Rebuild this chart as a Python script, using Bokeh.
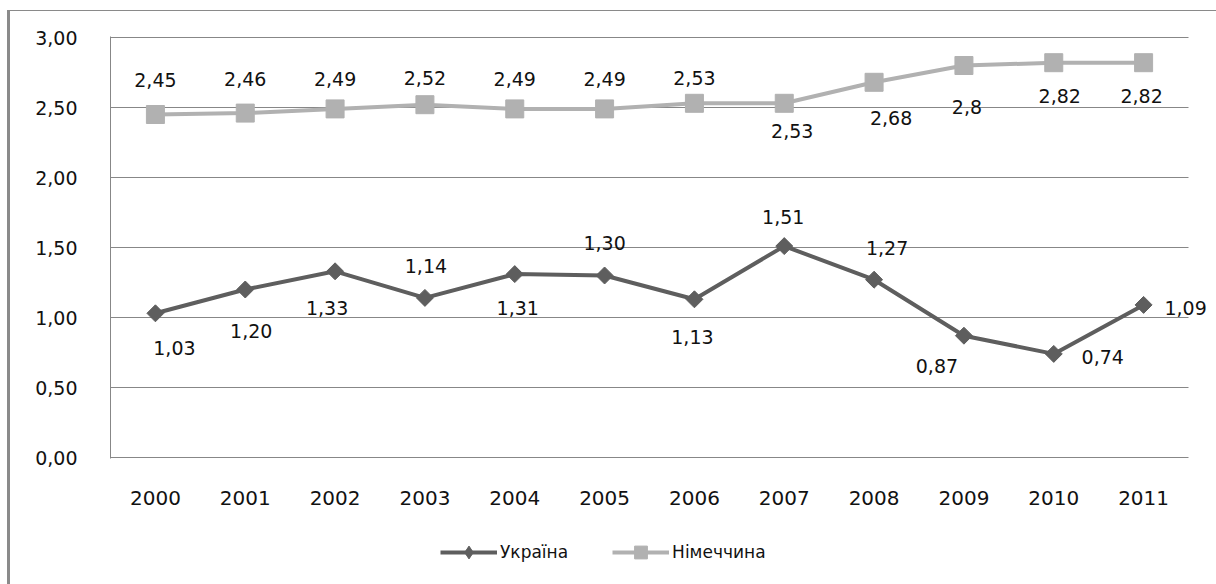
from bokeh.plotting import figure
from bokeh.layouts import column
from bokeh.models import (ColumnDataSource, LabelSet, Legend, LegendItem,
                          Range1d, FixedTicker, CustomJSTickFormatter)
from bokeh.core.properties import value
from bokeh.embed import file_html
from bokeh.resources import INLINE

# ---- data ----
years = ["2000", "2001", "2002", "2003", "2004", "2005",
         "2006", "2007", "2008", "2009", "2010", "2011"]
ukraine = [1.03, 1.20, 1.33, 1.14, 1.31, 1.30, 1.13, 1.51, 1.27, 0.87, 0.74, 1.09]
germany = [2.45, 2.46, 2.49, 2.52, 2.49, 2.49, 2.53, 2.53, 2.68, 2.80, 2.82, 2.82]
y_ticks = [0.0, 0.5, 1.0, 1.5, 2.0, 2.5, 3.0]
series_names = ["Україна", "Німеччина"]

# ---- label placement (style, screen px; dy positive = up) ----
ukr_dx = [19, 6, -8, 1, 3, 0, -2, -1, 13, -27, 49, 42]
ukr_dy = [-35, -41, -37, 32, -34, 33, -38, 29, 32, -30, -3, -3]
ger_dx = [0, 0, 0, 0, 0, 0, 0, 8, 17, 3, 6, -2]
ger_dy = [35, 34, 30, 27, 30, 30, 25, -28, -36, -41, -33, -33]

FONT = "DejaVu Sans"
UKR_COLOR = "#5e5e5e"
GER_COLOR = "#b1b1b1"
GRID_COLOR = "#878787"
TEXT_COLOR = "#111111"

pos = list(range(len(years)))
n = len(years)

src = ColumnDataSource(data=dict(
    pos=pos,
    ukr=ukraine,
    ger=germany,
    ukr_txt=[f"{v:.2f}".replace(".", ",") for v in ukraine],
    ger_txt=[f"{v:g}".replace(".", ",") for v in germany],
    ukr_dx=ukr_dx, ukr_dy=ukr_dy, ger_dx=ger_dx, ger_dy=ger_dy,
))

W = 1206
H_MAIN = 520
H_LEG = 53

p = figure(x_range=Range1d(-0.5, n - 0.5 + 0.267),
           y_range=Range1d(-1 / 140, 3 + 1 / 140),
           width=W, height=H_MAIN,
           output_backend="svg", toolbar_location=None,
           min_border_left=100, min_border_right=4,
           min_border_top=25, min_border_bottom=H_MAIN - 447)
p.outline_line_color = None
p.background_fill_color = "white"
p.border_fill_color = "white"

# axes
p.yaxis.ticker = FixedTicker(ticks=y_ticks)
p.yaxis.formatter = CustomJSTickFormatter(code="return tick.toFixed(2).replace('.', ',');")
p.yaxis.axis_line_color = GRID_COLOR
p.yaxis.axis_line_width = 1
p.yaxis.major_tick_line_color = None
p.yaxis.minor_tick_line_color = None
p.yaxis.major_label_standoff = 27
p.yaxis.major_label_text_font = FONT
p.yaxis.major_label_text_font_size = "19px"
p.yaxis.major_label_text_color = TEXT_COLOR

p.xaxis.ticker = FixedTicker(ticks=pos)
p.xaxis.major_label_overrides = {i: y for i, y in zip(pos, years)}
p.xaxis.axis_line_color = None
p.xaxis.major_tick_line_color = None
p.xaxis.minor_tick_line_color = None
p.xaxis.major_label_standoff = 26
p.xaxis.major_label_text_font = FONT
p.xaxis.major_label_text_font_size = "20px"
p.xaxis.major_label_text_color = TEXT_COLOR

p.xgrid.grid_line_color = None
p.ygrid.grid_line_color = None
# horizontal gridlines across the category band only
p.segment(x0=[-0.5] * len(y_ticks), x1=[n - 0.5] * len(y_ticks),
          y0=y_ticks, y1=y_ticks, line_color=GRID_COLOR, line_width=1)

# series
p.line(x="pos", y="ukr", source=src, line_color=UKR_COLOR, line_width=4)
p.scatter(x="pos", y="ukr", source=src, marker="square", size=12, angle=0.785398,
          fill_color=UKR_COLOR, line_color=UKR_COLOR)
p.line(x="pos", y="ger", source=src, line_color=GER_COLOR, line_width=4)
p.scatter(x="pos", y="ger", source=src, marker="square", size=18,
          fill_color=GER_COLOR, line_color=GER_COLOR)

# data labels
for col, dx, dy in [("ukr", "ukr_dx", "ukr_dy"), ("ger", "ger_dx", "ger_dy")]:
    labels = LabelSet(x="pos", y=col, text=col + "_txt", source=src,
                      x_offset=dx, y_offset=dy,
                      text_align="center", text_baseline="middle",
                      text_font=value(FONT), text_font_size="19px", text_color=TEXT_COLOR)
    p.add_layout(labels)

# ---- legend strip (its renderers reuse the series data, kept out of view) ----
leg = figure(width=W, height=H_LEG, x_range=Range1d(100, 101), y_range=Range1d(100, 101),
             x_axis_type=None, y_axis_type=None,
             output_backend="svg", toolbar_location=None, min_border=0)
leg.outline_line_color = None
leg.xgrid.visible = False
leg.ygrid.visible = False
lu = leg.line(x="pos", y="ukr", source=src, line_color=UKR_COLOR, line_width=4)
su = leg.scatter(x="pos", y="ukr", source=src, marker="diamond", size=12,
                 fill_color=UKR_COLOR, line_color=UKR_COLOR)
lg = leg.line(x="pos", y="ger", source=src, line_color=GER_COLOR, line_width=4)
sg = leg.scatter(x="pos", y="ger", source=src, marker="square", size=18,
                 fill_color=GER_COLOR, line_color=GER_COLOR)
legend = Legend(items=[LegendItem(label=series_names[0], renderers=[lu, su]),
                       LegendItem(label=series_names[1], renderers=[lg, sg])],
                location=(330, 16), orientation="horizontal",
                glyph_width=57, glyph_height=32, label_height=32,
                label_standoff=3, spacing=44, padding=0, margin=0,
                border_line_color=None, background_fill_alpha=0,
                label_text_font=FONT, label_text_font_size="17px",
                label_text_color=TEXT_COLOR)
leg.add_layout(legend, "center")

layout = column(p, leg, spacing=0)
layout.styles = {"border-left": "3px solid #8a8a8a",
                 "border-top": "1px solid #8a8a8a",
                 "margin-top": "10px", "margin-left": "7px"}

open("out.html", "w").write(file_html(layout, INLINE))
